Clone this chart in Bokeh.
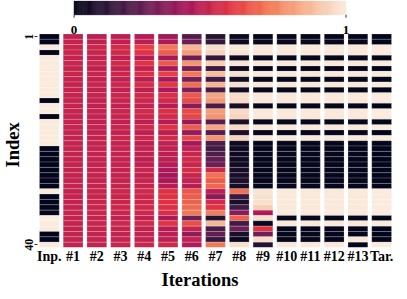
from bokeh.plotting import figure
from bokeh.models import (ColumnDataSource, LinearColorMapper, FixedTicker,
                          Range1d, Title)
from bokeh.core.properties import value
from bokeh.embed import file_html
from bokeh.resources import INLINE

# ---------------- data ----------------
columns = ["Inp.", "#1", "#2", "#3", "#4", "#5", "#6", "#7", "#8", "#9",
           "#10", "#11", "#12", "#13", "Tar."]
y_ticks = [1, 40]
cbar_ticks = [0, 1]
cbar_labels = ["0", "1"]

inp = [0, 0, 1, 0, 1, 1, 1, 1, 1, 1, 1, 1, 0, 1, 1, 0, 1, 1, 1, 1,
       1, 0, 0, 0, 0, 0, 0, 0, 0, 1, 0, 0, 0, 0, 1, 1, 1, 0, 0, 1]
it1 = [0.48, 0.49, 0.50, 0.50, 0.49, 0.50, 0.49, 0.50, 0.49, 0.49, 0.49, 0.49, 0.49, 0.49, 0.49, 0.49, 0.49, 0.49, 0.49, 0.49,
       0.49, 0.49, 0.49, 0.49, 0.49, 0.49, 0.49, 0.49, 0.49, 0.49, 0.49, 0.49, 0.49, 0.49, 0.49, 0.49, 0.49, 0.49, 0.49, 0.49]
it2 = [0.47, 0.48, 0.51, 0.50, 0.48, 0.50, 0.48, 0.50, 0.48, 0.50, 0.48, 0.49, 0.49, 0.48, 0.49, 0.49, 0.48, 0.49, 0.48, 0.49,
       0.49, 0.49, 0.49, 0.49, 0.49, 0.49, 0.49, 0.49, 0.49, 0.50, 0.50, 0.50, 0.50, 0.50, 0.49, 0.50, 0.49, 0.49, 0.49, 0.49]
it3 = [0.47, 0.48, 0.53, 0.52, 0.47, 0.52, 0.48, 0.51, 0.48, 0.51, 0.48, 0.50, 0.50, 0.48, 0.50, 0.50, 0.48, 0.50, 0.48, 0.50,
       0.49, 0.49, 0.49, 0.49, 0.49, 0.49, 0.49, 0.49, 0.49, 0.51, 0.50, 0.50, 0.51, 0.50, 0.48, 0.51, 0.49, 0.49, 0.49, 0.50]
it4 = [0.45, 0.47, 0.60, 0.57, 0.45, 0.57, 0.48, 0.55, 0.46, 0.54, 0.47, 0.52, 0.51, 0.48, 0.52, 0.51, 0.47, 0.52, 0.47, 0.51,
       0.47, 0.49, 0.48, 0.47, 0.48, 0.50, 0.48, 0.50, 0.49, 0.52, 0.51, 0.51, 0.52, 0.51, 0.48, 0.52, 0.48, 0.49, 0.48, 0.51]
it5 = [0.40, 0.43, 0.72, 0.66, 0.40, 0.65, 0.41, 0.60, 0.42, 0.58, 0.43, 0.55, 0.52, 0.45, 0.55, 0.53, 0.45, 0.57, 0.46, 0.53,
       0.48, 0.48, 0.47, 0.47, 0.45, 0.43, 0.41, 0.42, 0.46, 0.56, 0.56, 0.57, 0.55, 0.55, 0.43, 0.57, 0.46, 0.47, 0.47, 0.52]
it6 = [0.22, 0.27, 0.86, 0.80, 0.27, 0.78, 0.29, 0.72, 0.30, 0.70, 0.32, 0.65, 0.62, 0.35, 0.62, 0.61, 0.38, 0.66, 0.37, 0.62,
       0.41, 0.48, 0.50, 0.52, 0.50, 0.54, 0.50, 0.48, 0.46, 0.65, 0.66, 0.67, 0.69, 0.72, 0.28, 0.63, 0.50, 0.36, 0.48, 0.44]
it7 = [0.10, 0.14, 0.97, 0.94, 0.14, 0.92, 0.16, 0.88, 0.17, 0.86, 0.19, 0.82, 0.79, 0.20, 0.80, 0.78, 0.23, 0.82, 0.22, 0.78,
       0.20, 0.17, 0.21, 0.25, 0.27, 0.52, 0.70, 0.66, 0.68, 0.47, 0.34, 0.53, 0.57, 0.73, 0.10, 0.87, 0.20, 0.26, 0.15, 0.72]
it8 = [0.03, 0.03, 0.99, 0.98, 0.03, 0.98, 0.04, 0.97, 0.05, 0.97, 0.05, 0.96, 0.95, 0.06, 0.95, 0.94, 0.07, 0.95, 0.07, 0.94,
       0.03, 0.03, 0.03, 0.04, 0.04, 0.06, 0.07, 0.07, 0.06, 0.70, 0.16, 0.07, 0.17, 0.34, 0.67, 0.17, 0.28, 0.07, 0.02, 0.97]
it9 = [0.01, 0.01, 0.99, 0.99, 0.01, 0.99, 0.01, 0.99, 0.01, 0.99, 0.01, 0.99, 0.99, 0.01, 0.99, 0.99, 0.01, 0.99, 0.01, 0.99,
       0.01, 0.01, 0.01, 0.01, 0.01, 0.01, 0.01, 0.01, 0.01, 0.98, 0.97, 0.97, 0.92, 0.44, 0.97, 0.02, 0.57, 0.28, 0.96, 0.10]
it10 = [0.01, 0.01, 0.99, 0.99, 0.01, 0.99, 0.01, 0.99, 0.01, 0.99, 0.01, 0.99, 0.99, 0.01, 0.99, 0.99, 0.01, 0.99, 0.01, 0.99,
        0.01, 0.01, 0.01, 0.01, 0.01, 0.01, 0.01, 0.01, 0.01, 0.99, 0.99, 0.99, 0.99, 0.99, 0.01, 0.99, 0.01, 0.01, 0.01, 0.99]
it11 = [0.01, 0.01, 0.99, 0.99, 0.01, 0.99, 0.01, 0.99, 0.01, 0.99, 0.01, 0.99, 0.99, 0.01, 0.99, 0.99, 0.01, 0.99, 0.01, 0.99,
        0.01, 0.01, 0.01, 0.01, 0.01, 0.01, 0.01, 0.01, 0.01, 0.99, 0.99, 0.99, 0.99, 0.99, 0.01, 0.99, 0.01, 0.01, 0.01, 0.99]
it12 = [0.01, 0.01, 0.99, 0.99, 0.01, 0.99, 0.01, 0.99, 0.01, 0.99, 0.01, 0.99, 0.99, 0.01, 0.99, 0.99, 0.01, 0.99, 0.01, 0.99,
        0.01, 0.01, 0.01, 0.01, 0.01, 0.01, 0.01, 0.01, 0.01, 0.99, 0.99, 0.99, 0.99, 0.99, 0.01, 0.99, 0.01, 0.01, 0.01, 0.99]
it13 = [0.01, 0.01, 0.99, 0.99, 0.01, 0.99, 0.01, 0.99, 0.01, 0.99, 0.01, 0.99, 0.99, 0.01, 0.99, 0.99, 0.01, 0.99, 0.01, 0.99,
        0.01, 0.01, 0.01, 0.01, 0.01, 0.01, 0.01, 0.01, 0.01, 0.99, 0.99, 0.99, 0.99, 0.99, 0.01, 0.99, 0.01, 0.01, 0.99, 0.01]
tar = [0, 0, 1, 1, 0, 1, 0, 1, 0, 1, 0, 1, 1, 0, 1, 1, 0, 1, 0, 1,
       0, 0, 0, 0, 0, 0, 0, 0, 0, 1, 1, 1, 1, 1, 0, 1, 0, 0, 0, 1]

series = [inp, it1, it2, it3, it4, it5, it6, it7, it8, it9, it10, it11, it12, it13, tar]

# ---------------- palette (seaborn "rocket"-like) ----------------
rocket_anchors = ["#03051A", "#35193E", "#701F57", "#AD1759",
                  "#E13342", "#F37651", "#F6B48F", "#FAEBDD"]


def _rgb(h):
    return [int(h[i:i + 2], 16) for i in (1, 3, 5)]


anc = [_rgb(h) for h in rocket_anchors]
palette = []
nseg = len(anc) - 1
for i in range(256):
    t = i / 255 * nseg
    k = min(int(t), nseg - 1)
    f = t - k
    c = [round(anc[k][j] * (1 - f) + anc[k + 1][j] * f) for j in range(3)]
    palette.append("#%02x%02x%02x" % tuple(c))

mapper = LinearColorMapper(palette=palette, low=0, high=1)

xs, ys, vs = [], [], []
for ci, col in enumerate(series):
    for r, v in enumerate(col, start=1):
        xs.append(ci)
        ys.append(r)
        vs.append(v)
src = ColumnDataSource(dict(x=xs, y=ys, v=vs))

FONT = "Liberation Serif"

# ---------------- layout (pixels) ----------------
FIG_W, FIG_H = 399, 291
LEFT, RIGHT, BOTTOM = 33, 6, 40
FRAME_W = FIG_W - LEFT - RIGHT
FRAME_H = FIG_H - BOTTOM
TOP_BAND = 34                     # space above the grid for the colour bar
GRID_H = FRAME_H - TOP_BAND
row_px = GRID_H / len(inp)
CB_LEFT, CB_RIGHT = 37, 312       # colour bar, px from frame left
CB_SPAN = CB_RIGHT - CB_LEFT

p = figure(width=FIG_W, height=FIG_H,
           x_range=Range1d(-0.5, len(columns) - 0.5),
           y_range=Range1d(len(inp) + 0.5, 0.5 - TOP_BAND / row_px),
           output_backend="svg", toolbar_location=None,
           min_border_left=LEFT, min_border_right=RIGHT,
           min_border_top=0, min_border_bottom=BOTTOM)
p.outline_line_color = None
p.grid.visible = False
p.extra_x_ranges = {"cb": Range1d(-CB_LEFT / CB_SPAN, (FRAME_W - CB_LEFT) / CB_SPAN)}
p.extra_y_ranges = {"px": Range1d(FRAME_H, 0)}

# heat-map cells
p.rect(x="x", y="y", width=0.833, height=1, source=src,
       fill_color={"field": "v", "transform": mapper},
       line_color="white", line_alpha=0.3, line_width=0.6)

# colour bar
n = len(palette)
cb_src = ColumnDataSource(dict(
    left=[i / n for i in range(n)], right=[(i + 1) / n for i in range(n)],
    color=palette))
p.quad(left="left", right="right", bottom=14.5, top=0.5, source=cb_src,
       fill_color="color", line_color="color", line_width=0.5,
       x_range_name="cb", y_range_name="px")
p.segment(x0=cbar_ticks, x1=cbar_ticks, y0=14.5, y1=17.5, line_color="#333333",
          line_width=1, x_range_name="cb", y_range_name="px")
p.text(x=cbar_ticks, y=[29.8] * len(cbar_ticks), text=cbar_labels,
       text_font=value(FONT), text_font_style="bold", text_font_size="13px",
       text_align="center", text_baseline="alphabetic", text_color="black",
       x_range_name="cb", y_range_name="px")

# x axis
xa = p.xaxis[0]
xa.ticker = FixedTicker(ticks=list(range(len(columns))))
xa.major_label_overrides = {i: c for i, c in enumerate(columns)}
xa.axis_line_color = None
xa.major_tick_line_color = None
xa.minor_tick_line_color = None
xa.major_tick_out = 0
xa.major_tick_in = 0
xa.major_label_standoff = 1
xa.major_label_text_font = FONT
xa.major_label_text_font_style = "bold"
xa.major_label_text_font_size = "14px"
xa.major_label_text_color = "black"

# y axis
ya = p.yaxis[0]
ya.ticker = FixedTicker(ticks=y_ticks)
ya.axis_line_color = None
ya.minor_tick_line_color = None
ya.major_tick_out = 3
ya.major_tick_in = 0
ya.major_tick_line_color = "#333333"
ya.major_label_orientation = "vertical"
ya.major_label_standoff = 1
ya.major_label_text_font = FONT
ya.major_label_text_font_style = "bold"
ya.major_label_text_font_size = "12px"
ya.major_label_text_color = "black"

# axis titles
p.add_layout(Title(text="Iterations", align="left", offset=124, standoff=3,
                   text_font=FONT, text_font_style="bold", text_font_size="18.5px",
                   text_color="black"), "below")
p.add_layout(Title(text="Index", align="left", offset=80, standoff=0,
                   text_font=FONT, text_font_style="bold", text_font_size="18.5px",
                   text_color="black"), "left")

open("out.html", "w").write(file_html(p, INLINE))
